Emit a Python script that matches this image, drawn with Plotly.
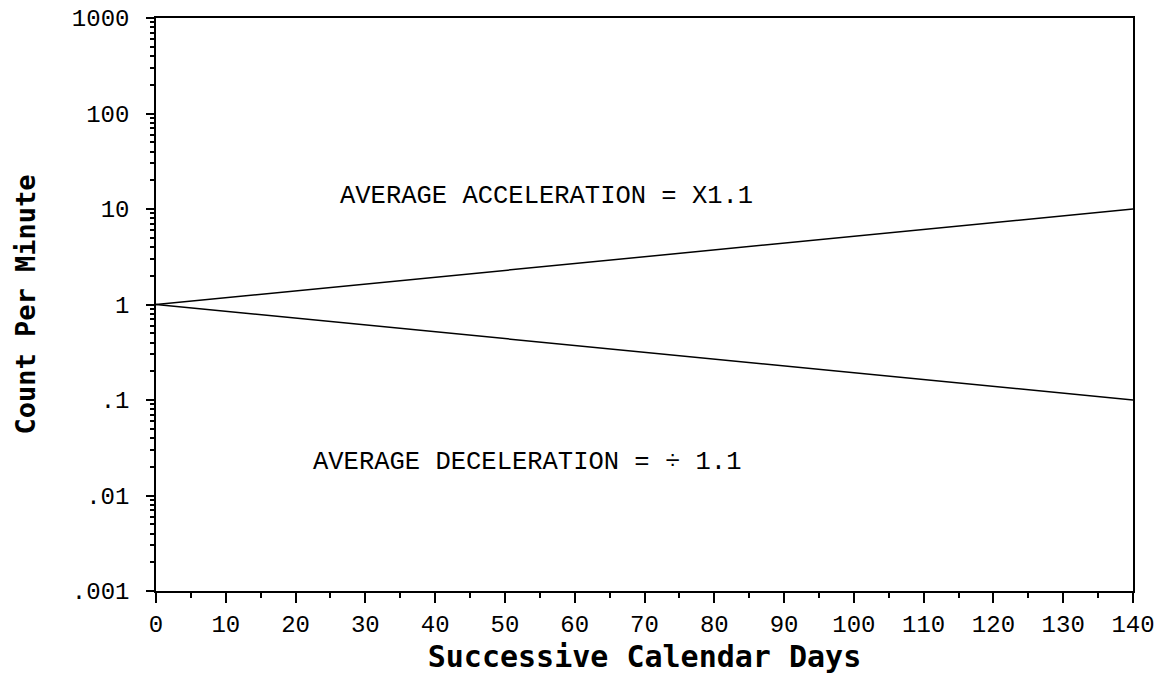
import plotly.graph_objects as go

days = [0, 140]
acceleration = [1, 10]
deceleration = [1, 0.1]

y_tick_vals = [0.001, 0.01, 0.1, 1, 10, 100, 1000]
y_tick_text = [".001", ".01", ".1", "1", "10", "100", "1000"]
x_tick_vals = list(range(0, 141, 10))

fig = go.Figure()
fig.add_trace(go.Scatter(x=days, y=acceleration, mode="lines",
                         line=dict(color="black", width=1.5), showlegend=False))
fig.add_trace(go.Scatter(x=days, y=deceleration, mode="lines",
                         line=dict(color="black", width=1.5), showlegend=False))

ann_font = dict(family="Liberation Mono", size=25.5, color="black")
fig.add_annotation(x=55.9, y=1.126, yref="y", text="AVERAGE ACCELERATION = X1.1",
                   showarrow=False, font=ann_font)
fig.add_annotation(x=53.2, y=-1.65, yref="y", text="AVERAGE DECELERATION = \u00f7 1.1",
                   showarrow=False, font=ann_font)

tick_font = dict(family="Liberation Mono", size=24, color="black")
x_title_font = dict(family="DejaVu Sans Mono", size=30, color="black")
y_title_font = dict(family="DejaVu Sans Mono", size=27, color="black")

fig.update_xaxes(range=[0, 140], tickvals=x_tick_vals, ticks="outside", ticklen=10,
                 tickwidth=1.5, tickcolor="black", showline=True, linecolor="black",
                 linewidth=1.5, mirror=True, showgrid=False, zeroline=False,
                 tickfont=tick_font, automargin=False, ticklabelstandoff=0,
                 ticklabeloverflow="allow",
                 minor=dict(dtick=5, ticks="outside", ticklen=5, tickcolor="black",
                            tickwidth=1.5, showgrid=False),
                 title=dict(text="<b>Successive Calendar Days</b>", font=x_title_font,
                            standoff=6))
fig.update_yaxes(type="log", range=[-3, 3], tickvals=y_tick_vals, ticktext=y_tick_text,
                 ticks="outside", ticklen=8, tickwidth=1.5, tickcolor="black",
                 showline=True, linecolor="black", linewidth=1.5, mirror=True,
                 showgrid=False, zeroline=False, tickfont=tick_font, automargin=False,
                 ticklabelstandoff=12, ticklabeloverflow="allow",
                 minor=dict(dtick="D1", ticks="outside", ticklen=4, tickcolor="black",
                            tickwidth=1.5, showgrid=False),
                 title=dict(text="<b>Count Per Minute</b>", font=y_title_font, standoff=28))

fig.update_layout(width=1163, height=679, plot_bgcolor="white", paper_bgcolor="white",
                  margin=dict(l=156, r=30, t=18, b=88))

fig.write_html("out.html", config={"displayModeBar": False},
               post_script="document.body.style.margin='0px';")
